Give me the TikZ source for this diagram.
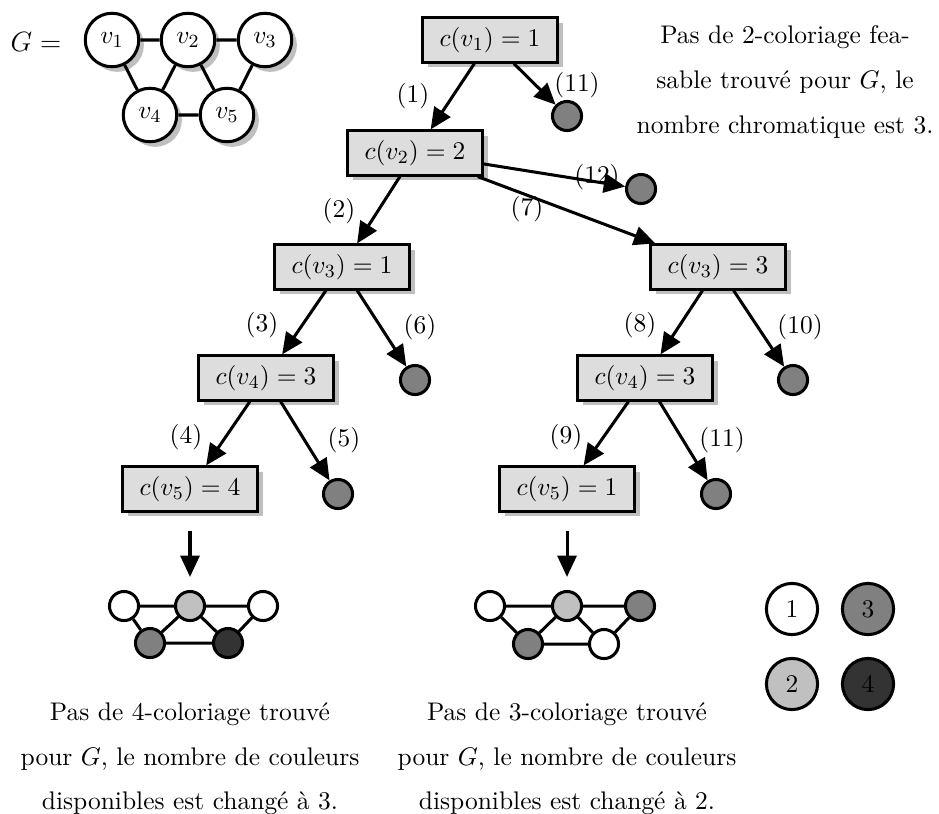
\documentclass[tikz,border=0pt]{standalone}
\usetikzlibrary{shadows,arrows.meta}
\definecolor{boxgray}{HTML}{DDDDDD}
\definecolor{colA}{HTML}{FFFFFF}
\definecolor{colB}{HTML}{C0C0C0}
\definecolor{colC}{HTML}{808080}
\definecolor{colD}{HTML}{333333}
\begin{document}
\begin{tikzpicture}[x=0.43pt,y=-0.43pt,
  font=\fontsize{10.95pt}{13.6pt}\selectfont,
  every path/.style={line width=1.3pt},
  shade/.style={drop shadow={shadow xshift=2.2pt,shadow yshift=-2.2pt,fill=black!25,opacity=1}},
  gvert/.style={circle,draw,fill=white,minimum size=23pt,inner sep=0pt,shade},
  stepbox/.style={rectangle,draw,fill=boxgray,minimum width=58pt,minimum height=19pt,inner sep=2pt,shade},
  leaf/.style={circle,draw,fill=colC,minimum size=12.5pt,inner sep=0pt},
  small/.style={circle,draw,minimum size=12.5pt,inner sep=0pt},
  legend/.style={circle,draw,minimum size=22pt,inner sep=0pt},
  arr/.style={-{Triangle[length=9.2pt,width=8.2pt]}},
  lbl/.style={inner sep=0pt},
  note/.style={align=center,inner sep=0pt,execute at begin node={\baselineskip=19.2pt}},
]
\useasboundingbox (0,0) rectangle (939,813);

% the graph G
\node[lbl,font=\large] (Glabel) at (36,42) {$G =$};
\node[gvert] (v1) at (112,40) {$v_1$};
\node[gvert] (v2) at (188,40) {$v_2$};
\node[gvert] (v3) at (265,40) {$v_3$};
\node[gvert] (v4) at (150,115) {$v_4$};
\node[gvert] (v5) at (227,115) {$v_5$};
\draw (v1) -- (v2) (v2) -- (v3) (v1) -- (v4) (v2) -- (v4) (v2) -- (v5) (v3) -- (v5) (v4) -- (v5);

% search tree
\node[stepbox] (b1) at (490,40) {$c(v_1) = 1$};
\node[stepbox] (b2) at (415,153) {$c(v_2) = 2$};
\node[stepbox] (b3l) at (342,267) {$c(v_3) = 1$};
\node[stepbox] (b3r) at (718,267) {$c(v_3) = 3$};
\node[stepbox] (b4l) at (266,378) {$c(v_4) = 3$};
\node[stepbox] (b4r) at (645,378) {$c(v_4) = 3$};
\node[stepbox] (b5l) at (190,489) {$c(v_5) = 4$};
\node[stepbox] (b5r) at (567,489) {$c(v_5) = 1$};

\node[leaf] (f1) at (567,116) {};
\node[leaf] (f2) at (641,189) {};
\node[leaf] (f3) at (415,380) {};
\node[leaf] (f4) at (793,380) {};
\node[leaf] (f5) at (338,494) {};
\node[leaf] (f6) at (716,494) {};

\draw[arr] (b1) -- (b2);
\draw[arr] (b1) -- (f1);
\draw[arr] (b2) -- (b3l);
\draw[arr] (b2) -- (f2);
\draw[arr] (b2) -- (b3r);
\draw[arr] (b3l) -- (b4l);
\draw[arr] (b3l) -- (f3);
\draw[arr] (b3r) -- (b4r);
\draw[arr] (b3r) -- (f4);
\draw[arr] (b4l) -- (b5l);
\draw[arr] (b4l) -- (f5);
\draw[arr] (b4r) -- (b5r);
\draw[arr] (b4r) -- (f6);

\node[lbl] (n1) at (413,96) {(1)};
\node[lbl] (n11a) at (577,85) {(11)};
\node[lbl] (n2) at (339,211) {(2)};
\node[lbl] (n12) at (597,177) {(12)};
\node[lbl] (n7) at (527,209) {(7)};
\node[lbl] (n3) at (262,325) {(3)};
\node[lbl] (n6) at (420,327) {(6)};
\node[lbl] (n8) at (640,325) {(8)};
\node[lbl] (n10) at (800,327) {(10)};
\node[lbl] (n4) at (186,437) {(4)};
\node[lbl] (n5) at (344,440) {(5)};
\node[lbl] (n9) at (566,437) {(9)};
\node[lbl] (n11b) at (722,440) {(11)};

% resulting colourings
\node[small,fill=colA] (a1) at (124,606) {};
\node[small,fill=colB] (a2) at (190,606) {};
\node[small,fill=colA] (a3) at (263,606) {};
\node[small,fill=colC] (a4) at (150,643) {};
\node[small,fill=colD] (a5) at (228,643) {};
\draw (a1) -- (a2) (a2) -- (a3) (a1) -- (a4) (a2) -- (a4) (a2) -- (a5) (a3) -- (a5) (a4) -- (a5);

\node[small,fill=colA] (c1) at (490,606) {};
\node[small,fill=colB] (c2) at (567,606) {};
\node[small,fill=colC] (c3) at (640,606) {};
\node[small,fill=colC] (c4) at (528,644) {};
\node[small,fill=colA] (c5) at (604,644) {};
\draw (c1) -- (c2) (c2) -- (c3) (c1) -- (c4) (c2) -- (c4) (c2) -- (c5) (c3) -- (c5) (c4) -- (c5);

\draw[arr] ([yshift=-8pt]b5l.south) -- ([yshift=5.6pt]a2.north);
\draw[arr] ([yshift=-8pt]b5r.south) -- ([yshift=5.6pt]c2.north);

% colour legend
\node[legend,fill=colA] (k1) at (792,609) {1};
\node[legend,fill=colC] (k3) at (868,609) {3};
\node[legend,fill=colB] (k2) at (792,684) {2};
\node[legend,fill=colD] (k4) at (868,684) {4};

% notes
\node[note] (t1) at (785,82) {Pas de 2-coloriage fea-\\sable trouvé pour $G$, le\\nombre chromatique est 3.};
\node[note] (t2) at (190,759) {Pas de 4-coloriage trouvé\\pour $G$, le nombre de couleurs\\disponibles est changé à 3.};
\node[note] (t3) at (567,759) {Pas de 3-coloriage trouvé\\pour $G$, le nombre de couleurs\\disponibles est changé à 2.};
\end{tikzpicture}
\end{document}
